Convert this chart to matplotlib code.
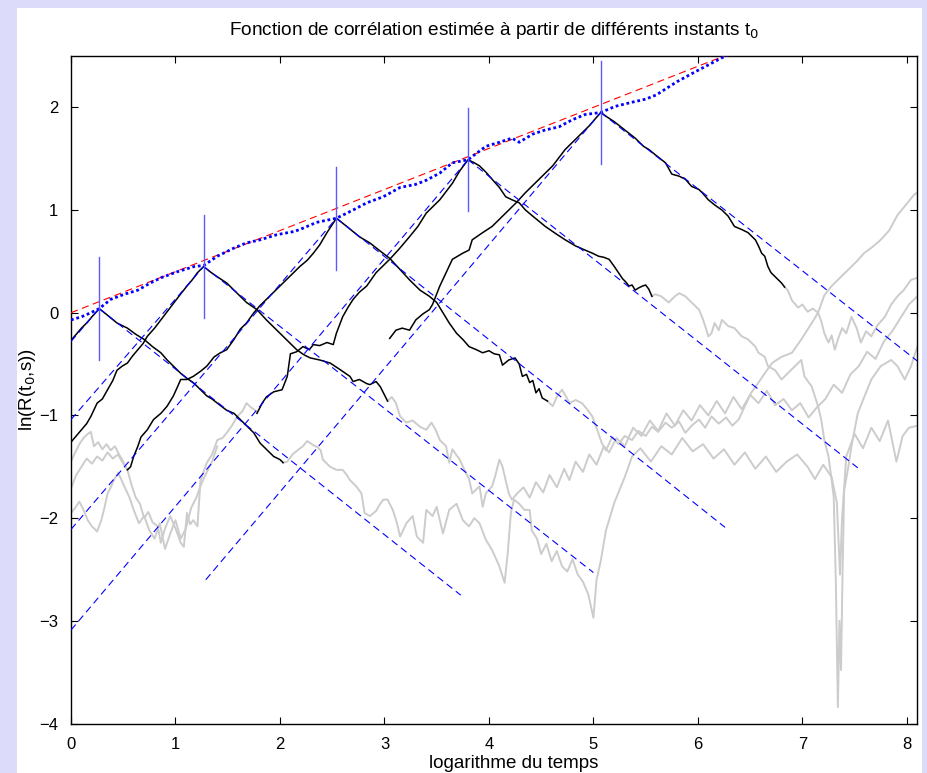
import matplotlib
matplotlib.use("Agg")
import matplotlib.pyplot as plt
from matplotlib.patches import Rectangle

plt.rcParams['font.family'] = ['Liberation Sans', 'DejaVu Sans']

# estimated t0 (log time) and the peak value of each correlation curve
t0 = [0.27, 1.27, 2.54, 3.80, 5.07]
peak = [0.04, 0.45, 0.92, 1.49, 1.95]

# fitted lines around each peak: rising start point, falling end point
rise_x = [0.0, 0.0, 0.0, 0.0, 1.29]
rise_y = [-0.28, -1.04, -2.11, -3.09, -2.60]
fall_x = [3.73, 5.00, 6.26, 7.53, 8.10]
fall_y = [-2.75, -2.53, -2.09, -1.51, -0.47]

# envelope slope (red) and the envelope of the estimated maxima (blue dotted)
red_x = [0.0, 6.3]
red_y = [0.0, 2.52]
env_x = [0.0, 0.1, 0.19, 0.27, 0.38, 0.51, 0.64, 0.76, 0.86, 1.02, 1.18, 1.27,
         1.40, 1.56, 1.68, 1.81, 1.97, 2.13, 2.19, 2.35, 2.54, 2.70, 2.83, 2.99,
         3.15, 3.30, 3.40, 3.53, 3.65, 3.80, 3.97, 4.10, 4.22, 4.29, 4.42, 4.54,
         4.67, 4.80, 4.92, 5.07, 5.21, 5.37, 5.50, 5.6, 5.8, 6.0, 6.15, 6.3]
env_y = [-0.07, -0.04, 0.0, 0.04, 0.13, 0.18, 0.22, 0.29, 0.34, 0.40, 0.45, 0.46,
         0.55, 0.63, 0.68, 0.71, 0.76, 0.79, 0.81, 0.88, 0.92, 1.0, 1.07, 1.13,
         1.22, 1.25, 1.29, 1.36, 1.46, 1.49, 1.62, 1.66, 1.70, 1.66, 1.74, 1.78,
         1.81, 1.88, 1.93, 1.95, 2.01, 2.05, 2.08, 2.12, 2.25, 2.36, 2.44, 2.52]

# correlation curves near t0 (black)
k1_x = [0.0, 0.05, 0.1, 0.15, 0.2, 0.27, 0.32, 0.38, 0.44, 0.54, 0.62, 0.70, 0.78,
        0.86, 0.92, 0.98, 1.05, 1.11, 1.17, 1.24, 1.30, 1.35, 1.40, 1.49, 1.56,
        1.62, 1.68, 1.75, 1.81, 1.87, 1.94, 2.0, 2.03]
k1_y = [-0.27, -0.21, -0.15, -0.10, -0.04, 0.04, 0.0, -0.05, -0.10, -0.15, -0.21,
        -0.26, -0.33, -0.39, -0.46, -0.52, -0.59, -0.64, -0.68, -0.75, -0.81, -0.84,
        -0.88, -0.95, -0.98, -1.04, -1.10, -1.17, -1.27, -1.33, -1.40, -1.43, -1.46]

k2_x = [0.0, 0.05, 0.10, 0.15, 0.19, 0.25, 0.30, 0.35, 0.40, 0.44, 0.49, 0.54, 0.59,
        0.64, 0.69, 0.73, 0.8, 0.86, 0.92, 0.98, 1.04, 1.11, 1.16, 1.21, 1.27, 1.33,
        1.40, 1.49, 1.59, 1.68, 1.78, 1.87, 1.97, 2.06, 2.16, 2.23, 2.29, 2.38, 2.48,
        2.57, 2.67, 2.70, 2.76, 2.83, 2.86, 2.92, 2.96, 2.99, 3.03]
k2_y = [-1.26, -1.20, -1.14, -1.08, -1.01, -0.88, -0.84, -0.75, -0.66, -0.56, -0.52,
        -0.49, -0.42, -0.36, -0.30, -0.23, -0.15, -0.07, 0.01, 0.09, 0.17, 0.26, 0.32,
        0.39, 0.45, 0.40, 0.35, 0.29, 0.19, 0.10, 0.03, -0.07, -0.17, -0.26, -0.36,
        -0.41, -0.44, -0.46, -0.49, -0.55, -0.62, -0.67, -0.65, -0.69, -0.70, -0.67,
        -0.72, -0.78, -0.86]

k3_x = [0.54, 0.57, 0.60, 0.64, 0.67, 0.73, 0.79, 0.86, 0.92, 0.98, 1.02, 1.05, 1.11,
        1.17, 1.24, 1.30, 1.37, 1.43, 1.49, 1.56, 1.62, 1.68, 1.75, 1.81, 1.87, 1.97,
        2.06, 2.13, 2.19, 2.26, 2.32, 2.38, 2.45, 2.54, 2.64, 2.70, 2.76, 2.86, 2.96,
        3.05, 3.15, 3.24, 3.34, 3.43, 3.50, 3.56, 3.62, 3.69, 3.75, 3.81, 3.88, 3.94,
        4.0, 4.05, 4.10, 4.13, 4.19, 4.25, 4.29, 4.32, 4.36, 4.39, 4.42, 4.45, 4.48,
        4.51, 4.56]
k3_y = [-1.53, -1.50, -1.40, -1.30, -1.21, -1.14, -1.04, -0.98, -0.91, -0.81, -0.72,
        -0.65, -0.65, -0.62, -0.57, -0.52, -0.43, -0.39, -0.36, -0.26, -0.16, -0.10,
        0.0, 0.07, 0.13, 0.23, 0.32, 0.39, 0.45, 0.51, 0.58, 0.66, 0.78, 0.92, 0.84,
        0.79, 0.74, 0.68, 0.60, 0.53, 0.42, 0.32, 0.22, 0.16, 0.10, 0.0, -0.10, -0.20,
        -0.26, -0.33, -0.36, -0.39, -0.37, -0.40, -0.41, -0.51, -0.46, -0.44, -0.50,
        -0.62, -0.60, -0.68, -0.66, -0.78, -0.74, -0.83, -0.86]

k4_x = [1.78, 1.83, 1.87, 1.94, 2.02, 2.07, 2.10, 2.16, 2.22, 2.28, 2.32, 2.38, 2.45,
        2.51, 2.54, 2.60, 2.65, 2.70, 2.76, 2.83, 2.92, 2.98, 3.05, 3.14, 3.24, 3.32,
        3.40, 3.47, 3.53, 3.59, 3.65, 3.72, 3.80, 3.86, 3.91, 3.97, 4.03, 4.10, 4.16,
        4.22, 4.29, 4.35, 4.42, 4.48, 4.54, 4.64, 4.73, 4.83, 4.92, 4.99, 5.05, 5.10,
        5.15, 5.20, 5.24, 5.28, 5.31, 5.34, 5.37, 5.40, 5.43, 5.47, 5.50, 5.53, 5.56]
k4_y = [-0.98, -0.88, -0.82, -0.77, -0.75, -0.62, -0.40, -0.38, -0.33, -0.36, -0.31,
        -0.32, -0.29, -0.31, -0.20, -0.04, 0.05, 0.13, 0.20, 0.26, 0.39, 0.45, 0.52,
        0.62, 0.74, 0.84, 0.97, 1.04, 1.10, 1.18, 1.26, 1.38, 1.49, 1.46, 1.43, 1.37,
        1.30, 1.22, 1.13, 1.10, 1.07, 1.00, 0.94, 0.89, 0.84, 0.77, 0.71, 0.65, 0.61,
        0.58, 0.55, 0.54, 0.52, 0.45, 0.39, 0.33, 0.30, 0.26, 0.27, 0.22, 0.24, 0.26,
        0.27, 0.23, 0.16]

k5_x = [3.05, 3.11, 3.17, 3.24, 3.30, 3.37, 3.43, 3.46, 3.53, 3.59, 3.65, 3.70, 3.75,
        3.81, 3.84, 3.94, 4.03, 4.10, 4.16, 4.26, 4.35, 4.48, 4.61, 4.73, 4.86, 4.96,
        5.07, 5.14, 5.2, 5.3, 5.4, 5.48, 5.53, 5.59, 5.64, 5.69, 5.75, 5.82, 5.88, 5.94,
        6.01, 6.04, 6.10, 6.16, 6.23, 6.29, 6.35, 6.42, 6.48, 6.52, 6.55, 6.58, 6.61,
        6.64, 6.67, 6.70, 6.73, 6.77, 6.80, 6.83]
k5_y = [-0.25, -0.17, -0.15, -0.17, -0.07, -0.01, 0.03, 0.08, 0.26, 0.39, 0.52, 0.55,
        0.58, 0.61, 0.71, 0.78, 0.84, 0.91, 0.97, 1.07, 1.17, 1.30, 1.43, 1.59, 1.72,
        1.82, 1.95, 1.90, 1.86, 1.78, 1.70, 1.62, 1.59, 1.54, 1.50, 1.46, 1.35, 1.33,
        1.30, 1.23, 1.20, 1.17, 1.10, 1.05, 1.00, 0.94, 0.84, 0.81, 0.78, 0.74, 0.71,
        0.65, 0.58, 0.55, 0.45, 0.39, 0.36, 0.32, 0.29, 0.25]

# parts of the curves far from t0 (grey)
g1_x = [0.0, 0.04, 0.08, 0.12, 0.16, 0.19, 0.22, 0.26, 0.3, 0.34, 0.38, 0.42, 0.46,
        0.5, 0.54]
g1_y = [-1.45, -1.36, -1.28, -1.22, -1.18, -1.16, -1.30, -1.26, -1.33, -1.28, -1.34,
        -1.30, -1.38, -1.45, -1.53]

g2_x = [0.0, 0.05, 0.1, 0.15, 0.2, 0.25, 0.3, 0.35, 0.4, 0.45, 0.5, 0.54, 0.58, 0.62,
        0.66, 0.70, 0.74, 0.78, 0.83, 0.86, 0.9, 0.95, 1.0, 1.05, 1.08, 1.11, 1.14,
        1.17, 1.21, 1.24, 1.3, 1.35, 1.4, 1.45, 1.49, 1.54, 1.59, 1.64, 1.68, 1.72,
        1.75, 1.78]
g2_y = [-1.71, -1.58, -1.50, -1.42, -1.47, -1.40, -1.44, -1.36, -1.42, -1.38, -1.47,
        -1.53, -1.68, -1.80, -1.86, -2.00, -1.94, -2.04, -2.08, -2.24, -2.10, -1.98,
        -2.10, -2.24, -2.28, -1.95, -2.06, -2.02, -2.08, -1.63, -1.46, -1.38, -1.24,
        -1.22, -1.17, -1.10, -1.01, -0.96, -0.88, -0.92, -0.94, -0.97]

g3_x = [0.0, 0.04, 0.08, 0.12, 0.16, 0.2, 0.25, 0.29, 0.32, 0.35, 0.38, 0.41, 0.45,
        0.48, 0.51, 0.56, 0.6, 0.65, 0.7, 0.75, 0.8, 0.85, 0.9, 0.95, 1.0, 1.05, 1.1,
        1.15, 1.2, 1.25, 1.3, 1.35, 1.4]
g3_y = [-1.95, -1.90, -1.84, -1.92, -2.02, -2.08, -2.13, -2.02, -1.90, -1.76, -1.70,
        -1.63, -1.56, -1.62, -1.69, -1.80, -1.92, -2.05, -1.98, -2.12, -2.20, -2.05,
        -2.30, -2.15, -2.02, -2.20, -2.10, -1.90, -1.80, -1.66, -1.55, -1.45, -1.30]

r1_x = [2.03, 2.07, 2.12, 2.18, 2.22, 2.26, 2.32, 2.36, 2.39, 2.41, 2.45, 2.48, 2.54,
        2.6, 2.64, 2.67, 2.73, 2.78, 2.81, 2.86, 2.92, 2.96, 2.99, 3.03, 3.08, 3.12,
        3.15, 3.21, 3.27, 3.31, 3.37, 3.40, 3.46, 3.50, 3.56, 3.62, 3.69, 3.75, 3.81,
        3.86, 3.91, 3.97, 4.03, 4.10, 4.15, 4.18, 4.21, 4.24, 4.29, 4.34, 4.39, 4.41,
        4.46, 4.5, 4.55, 4.6, 4.65, 4.7, 4.75, 4.8, 4.85, 4.9, 4.95, 5.0, 5.03, 5.07,
        5.12, 5.2, 5.3, 5.37, 5.45, 5.55, 5.65, 5.75, 5.85, 5.95, 6.05, 6.15, 6.25,
        6.35, 6.45, 6.55, 6.65, 6.75, 6.85, 6.95, 7.05, 7.12, 7.2, 7.28, 7.33, 7.36,
        7.38, 7.42, 7.5, 7.58, 7.66, 7.74, 7.82, 7.9, 7.96, 8.02, 8.1]
r1_y = [-1.46, -1.45, -1.38, -1.33, -1.30, -1.25, -1.29, -1.31, -1.34, -1.43, -1.47,
        -1.50, -1.53, -1.53, -1.58, -1.63, -1.69, -1.76, -1.95, -1.98, -1.93, -1.86,
        -1.82, -1.82, -1.92, -2.05, -2.18, -2.05, -1.98, -2.18, -2.24, -1.92, -1.98,
        -1.89, -2.15, -1.92, -1.86, -2.02, -2.08, -2.0, -2.05, -2.21, -2.31, -2.47,
        -2.63, -2.34, -1.95, -1.82, -1.86, -1.92, -1.92, -2.12, -2.2, -2.35, -2.25,
        -2.42, -2.32, -2.47, -2.52, -2.40, -2.55, -2.62, -2.74, -2.97, -2.60, -2.42,
        -2.12, -1.85, -1.60, -1.40, -1.32, -1.45, -1.30, -1.38, -1.22, -1.35, -1.28,
        -1.42, -1.33, -1.48, -1.36, -1.52, -1.40, -1.55, -1.45, -1.38, -1.50, -1.62,
        -1.48, -1.60, -1.85, -2.55, -2.0, -1.40, -1.18, -1.32, -1.12, -1.25, -1.05,
        -1.45, -1.20, -1.12, -1.10]

r2_x = [3.03, 3.07, 3.11, 3.15, 3.21, 3.27, 3.34, 3.40, 3.45, 3.49, 3.53, 3.59, 3.62,
        3.65, 3.72, 3.78, 3.81, 3.84, 3.91, 3.94, 3.97, 4.03, 4.06, 4.10, 4.13, 4.16,
        4.19, 4.22, 4.27, 4.33, 4.39, 4.45, 4.52, 4.58, 4.65, 4.72, 4.77, 4.83, 4.9,
        4.96, 5.03, 5.1, 5.15, 5.22, 5.3, 5.38, 5.46, 5.54, 5.62, 5.7, 5.78, 5.86,
        5.94, 6.02, 6.1, 6.18, 6.26, 6.34, 6.42, 6.5, 6.58, 6.66, 6.74, 6.82, 6.9,
        6.98, 7.06, 7.14, 7.22, 7.3, 7.38, 7.46, 7.54, 7.62, 7.7, 7.78, 7.86, 7.94,
        8.02, 8.1]
r2_y = [-0.86, -0.82, -0.88, -1.01, -1.07, -1.05, -1.11, -1.14, -1.07, -1.14, -1.24,
        -1.30, -1.46, -1.33, -1.43, -1.56, -1.62, -1.76, -1.69, -1.89, -1.76, -1.69,
        -1.59, -1.43, -1.50, -1.63, -1.76, -1.82, -1.76, -1.70, -1.80, -1.65, -1.75,
        -1.58, -1.70, -1.52, -1.63, -1.45, -1.55, -1.38, -1.48, -1.30, -1.36, -1.22,
        -1.30, -1.12, -1.20, -1.05, -1.15, -0.98, -1.10, -0.95, -1.05, -0.90, -1.00,
        -0.86, -0.98, -0.82, -0.94, -0.80, -0.88, -0.76, -0.90, -0.84, -0.95, -0.88,
        -1.02, -0.92, -0.84, -0.70, -0.78, -0.60, -0.52, -0.38, -0.45, -0.28, -0.18,
        -0.05, 0.08, 0.16]

r3_x = [4.56, 4.61, 4.66, 4.70, 4.74, 4.77, 4.83, 4.89, 4.94, 4.99, 5.04, 5.08, 5.12,
        5.18, 5.24, 5.30, 5.37, 5.43, 5.50, 5.56, 5.62, 5.69, 5.75, 5.82, 5.88, 5.94,
        6.01, 6.07, 6.13, 6.2, 6.27, 6.33, 6.39, 6.45, 6.51, 6.58, 6.64, 6.71, 6.80,
        6.90, 6.99, 7.09, 7.15, 7.21, 7.28, 7.36, 7.44, 7.52, 7.59, 7.67, 7.75, 7.83,
        7.91, 7.99, 8.07, 8.1]
r3_y = [-0.86, -0.91, -0.80, -0.75, -0.82, -0.88, -0.85, -0.88, -0.94, -1.01, -1.15,
        -1.27, -1.34, -1.21, -1.28, -1.20, -1.24, -1.15, -1.20, -1.11, -1.16, -1.07,
        -1.12, -1.06, -1.17, -1.10, -1.04, -1.12, -1.01, -1.08, -1.02, -1.10, -1.04,
        -0.91, -0.78, -0.68, -0.59, -0.49, -0.43, -0.39, -0.26, -0.10, 0.0, 0.17,
        0.26, 0.34, 0.42, 0.50, 0.58, 0.64, 0.71, 0.80, 0.95, 1.05, 1.15, 1.17]

r4_x = [5.56, 5.59, 5.65, 5.72, 5.78, 5.82, 5.88, 5.94, 6.01, 6.04, 6.07, 6.10, 6.13,
        6.16, 6.2, 6.23, 6.29, 6.35, 6.42, 6.48, 6.55, 6.58, 6.64, 6.67, 6.74, 6.80,
        6.86, 6.93, 6.99, 7.02, 7.09, 7.15, 7.18, 7.21, 7.25, 7.28, 7.30, 7.32, 7.34,
        7.355, 7.37, 7.385, 7.40, 7.44, 7.47, 7.53, 7.60, 7.66, 7.75, 7.85, 7.91,
        7.98, 8.04, 8.1]
r4_y = [0.16, 0.18, 0.16, 0.10, 0.16, 0.19, 0.16, 0.10, 0.03, -0.04, -0.13, -0.23,
        -0.20, -0.10, -0.17, -0.07, -0.13, -0.15, -0.23, -0.26, -0.33, -0.39, -0.43,
        -0.52, -0.56, -0.65, -0.59, -0.52, -0.46, -0.62, -0.72, -0.91, -1.04, -1.24,
        -1.40, -1.63, -1.79, -2.6, -3.84, -3.0, -3.48, -2.5, -1.73, -1.5, -1.30,
        -0.98, -0.80, -0.65, -0.52, -0.46, -0.52, -0.65, -0.52, -0.33]

r5_x = [6.83, 6.86, 6.9, 6.96, 7.0, 7.05, 7.1, 7.15, 7.18, 7.21, 7.25, 7.28, 7.31,
        7.34, 7.38, 7.42, 7.47, 7.52, 7.56, 7.61, 7.66, 7.72, 7.79, 7.85, 7.91, 7.97,
        8.04, 8.1]
r5_y = [0.25, 0.22, 0.12, 0.05, 0.08, 0.01, 0.04, 0.0, -0.08, -0.2, -0.29, -0.22,
        -0.36, -0.26, -0.15, -0.20, -0.04, -0.15, -0.29, -0.18, -0.23, -0.12, -0.04,
        0.08, 0.16, 0.22, 0.32, 0.34]

GREY = '#cccccc'
BLUE = '#0000ff'
DASH = (6.5, 4)

fig = plt.figure(figsize=(9.27, 7.73), dpi=100, facecolor='#dcdcfa')
fig.patches.append(Rectangle((17 / 927, 0), 905 / 927, 765 / 773,
                             transform=fig.transFigure, facecolor='white',
                             edgecolor='none', zorder=-10))
ax = fig.add_axes([71 / 927, 49.5 / 773, 846.3 / 927, 667.5 / 773])
ax.set_zorder(1)

for gx, gy in [(g1_x, g1_y), (g2_x, g2_y), (g3_x, g3_y), (r1_x, r1_y),
               (r2_x, r2_y), (r3_x, r3_y), (r4_x, r4_y), (r5_x, r5_y)]:
    ax.plot(gx, gy, color=GREY, lw=1.4, zorder=1)

for kx, ky in [(k1_x, k1_y), (k2_x, k2_y), (k3_x, k3_y), (k4_x, k4_y), (k5_x, k5_y)]:
    ax.plot(kx, ky, color='black', lw=1.1, zorder=2)

for i in range(len(t0)):
    ax.plot([rise_x[i], t0[i]], [rise_y[i], peak[i]], color=BLUE, lw=0.8,
            dashes=DASH, zorder=3)
    ax.plot([t0[i], fall_x[i]], [peak[i], fall_y[i]], color=BLUE, lw=0.8,
            dashes=DASH, zorder=3)
    ax.plot([t0[i], t0[i]], [peak[i] - 0.5, peak[i] + 0.5], color='#5a5aff',
            lw=1.0, zorder=5)

ax.plot(red_x, red_y, color='red', lw=0.8, dashes=DASH, zorder=3)
ax.plot(env_x, env_y, color=BLUE, lw=2.0, dashes=(1, 1), zorder=4)

ax.set_xlim(0, 8.1)
ax.set_ylim(-4, 2.5)
ax.set_xticks(range(0, 9))
ax.set_yticks(range(-4, 3))
ax.set_yticklabels(['\u22124', '\u22123', '\u22122', '\u22121', '0', '1', '2'])
ax.tick_params(direction='in', length=5, width=0.8, top=True, right=True,
               labelsize=12)
ax.tick_params(axis='x', pad=10)
ax.tick_params(axis='y', pad=9)
for s in ax.spines.values():
    s.set_linewidth(1.0)

ax.set_title('Fonction de corrélation estimée à partir de différents instants t$_0$',
             fontsize=13.7, pad=15)
ax.set_xlabel('logarithme du temps', fontsize=13.5)
ax.xaxis.set_label_coords(0.523, -0.047)
ax.set_ylabel('ln(R(t$_0$,s))', fontsize=13.5, labelpad=1)

fig.savefig('out.png', dpi=100, facecolor=fig.get_facecolor())
